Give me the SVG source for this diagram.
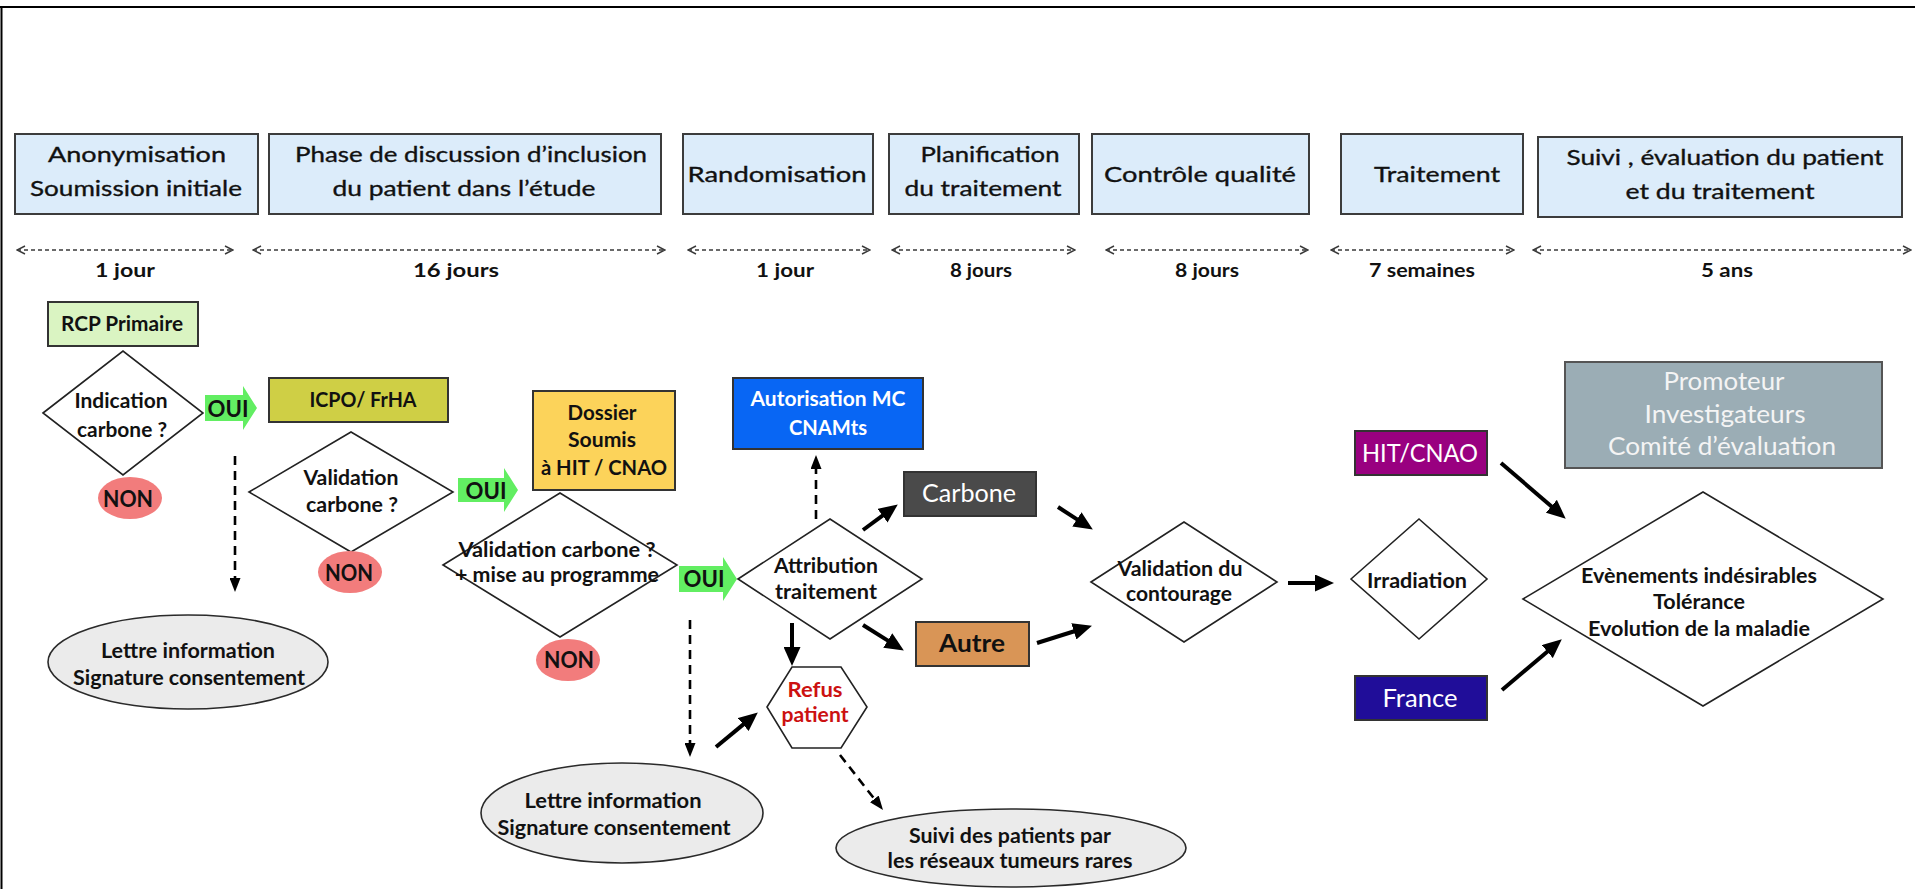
<svg xmlns="http://www.w3.org/2000/svg" width="1915" height="889" viewBox="0 0 1915 889">
<style>
.t{font-family:Lato,'Liberation Sans',sans-serif;text-anchor:middle;fill:#111}
.h{font-size:22px;stroke:#111;stroke-width:0.35}
.b{font-size:20.5px;font-weight:bold}
.d{font-size:19px;font-weight:bold}
.o{font-size:23px;font-weight:bold}
.L{font-size:25px}
.w{fill:#fff}
.hdr{fill:#dcecfa;stroke:#3c3c3c;stroke-width:2}
.box{stroke:#333;stroke-width:2}
.dia{fill:#fff;stroke:#222;stroke-width:1.6}
.ell{fill:#ebebeb;stroke:#2a2a2a;stroke-width:1.6}
.non{fill:#f27c7c}
.oui{fill:#62ee62}
.tl{stroke:#3a3a3a;stroke-width:1.4;stroke-dasharray:4 3;fill:none;marker-start:url(#chev);marker-end:url(#chev)}
.sa{stroke:#000;stroke-width:4;fill:none;marker-end:url(#ah)}
.da{stroke:#000;stroke-width:2.6;stroke-dasharray:9 6;fill:none;marker-end:url(#dh)}
</style>
<defs>
<marker id="chev" markerUnits="userSpaceOnUse" viewBox="0 0 10 10" markerWidth="10" markerHeight="10" refX="9" refY="5" orient="auto-start-reverse"><path d="M1,1 L9,5 L1,9" fill="none" stroke="#3a3a3a" stroke-width="1.4"/></marker>
<marker id="ah" markerUnits="userSpaceOnUse" viewBox="0 0 19 17" markerWidth="19" markerHeight="17" refX="3" refY="8.5" orient="auto"><path d="M0,0 L19,8.5 L0,17 Z" fill="#000"/></marker>
<marker id="dh" markerUnits="userSpaceOnUse" viewBox="0 0 14 11" markerWidth="14" markerHeight="11" refX="2" refY="5.5" orient="auto"><path d="M0,0 L14,5.5 L0,11 Z" fill="#000"/></marker>
</defs>
<rect x="0" y="0" width="1915" height="889" fill="#fff"/>
<g id="frame"><line x1="0" y1="7" x2="1915" y2="7" stroke="#000" stroke-width="2"/><line x1="1.5" y1="7" x2="1.5" y2="889" stroke="#000" stroke-width="2"/></g>

<g id="header">
<g id="h1"><rect class="hdr" x="15" y="134" width="243" height="80"/>
<text class="t h" x="137" y="162" textLength="178" lengthAdjust="spacingAndGlyphs">Anonymisation</text>
<text class="t h" x="136" y="196" textLength="212" lengthAdjust="spacingAndGlyphs">Soumission initiale</text></g>
<g id="h2"><rect class="hdr" x="269" y="134" width="392" height="80"/>
<text class="t h" x="471" y="162" textLength="352" lengthAdjust="spacingAndGlyphs">Phase de discussion d’inclusion</text>
<text class="t h" x="464" y="196" textLength="263" lengthAdjust="spacingAndGlyphs">du patient dans l’étude</text></g>
<g id="h3"><rect class="hdr" x="683" y="134" width="190" height="80"/>
<text class="t h" x="777" y="182" textLength="179" lengthAdjust="spacingAndGlyphs">Randomisation</text></g>
<g id="h4"><rect class="hdr" x="889" y="134" width="190" height="80"/>
<text class="t h" x="990" y="162" textLength="139" lengthAdjust="spacingAndGlyphs">Planification</text>
<text class="t h" x="983" y="196" textLength="157" lengthAdjust="spacingAndGlyphs">du traitement</text></g>
<g id="h5"><rect class="hdr" x="1092" y="134" width="217" height="80"/>
<text class="t h" x="1200" y="182" textLength="192" lengthAdjust="spacingAndGlyphs">Contrôle qualité</text></g>
<g id="h6"><rect class="hdr" x="1341" y="134" width="182" height="80"/>
<text class="t h" x="1437" y="182" textLength="126" lengthAdjust="spacingAndGlyphs">Traitement</text></g>
<g id="h7"><rect class="hdr" x="1538" y="137" width="364" height="80"/>
<text class="t h" x="1725" y="165" textLength="317" lengthAdjust="spacingAndGlyphs">Suivi , évaluation du patient</text>
<text class="t h" x="1720" y="199" textLength="189" lengthAdjust="spacingAndGlyphs">et du traitement</text></g>
</g>

<g id="timeline">
<line class="tl" x1="17" y1="250" x2="233" y2="250"/>
<line class="tl" x1="253" y1="250" x2="665" y2="250"/>
<line class="tl" x1="688" y1="250" x2="870" y2="250"/>
<line class="tl" x1="892" y1="250" x2="1075" y2="250"/>
<line class="tl" x1="1106" y1="250" x2="1308" y2="250"/>
<line class="tl" x1="1331" y1="250" x2="1514" y2="250"/>
<line class="tl" x1="1533" y1="250" x2="1911" y2="250"/>
<text class="t d" x="125" y="277" textLength="60" lengthAdjust="spacingAndGlyphs">1  jour</text>
<text class="t d" x="456" y="277" textLength="86" lengthAdjust="spacingAndGlyphs">16 jours</text>
<text class="t d" x="785" y="277" textLength="58" lengthAdjust="spacingAndGlyphs">1 jour</text>
<text class="t d" x="981" y="277" textLength="62" lengthAdjust="spacingAndGlyphs">8 jours</text>
<text class="t d" x="1207" y="277" textLength="64" lengthAdjust="spacingAndGlyphs">8 jours</text>
<text class="t d" x="1422" y="277" textLength="106" lengthAdjust="spacingAndGlyphs">7 semaines</text>
<text class="t d" x="1727" y="277" textLength="52" lengthAdjust="spacingAndGlyphs">5 ans</text>
</g>

<g id="connectors">
<line class="da" x1="235" y1="456" x2="235" y2="580"/>
<line class="da" x1="816" y1="519" x2="816" y2="467"/>
<line class="da" x1="690" y1="620" x2="690" y2="745"/>
<line class="da" x1="840" y1="755" x2="875.6" y2="800.5"/>
<line class="sa" x1="863" y1="530" x2="884.9" y2="513.9"/>
<line class="sa" x1="863" y1="625" x2="890.3" y2="642.1"/>
<line class="sa" x1="792" y1="623" x2="792" y2="650"/>
<line class="sa" x1="716" y1="747" x2="745.5" y2="722.6"/>
<line class="sa" x1="1058" y1="507" x2="1079.4" y2="520.9"/>
<line class="sa" x1="1037" y1="643" x2="1076.7" y2="630.5"/>
<line class="sa" x1="1288" y1="583" x2="1318" y2="583"/>
<line class="sa" x1="1501" y1="463" x2="1553.6" y2="508.2"/>
<line class="sa" x1="1502" y1="690" x2="1549.6" y2="649.7"/>
</g>

<g id="rcp"><rect class="box" x="48" y="302" width="150" height="44" fill="#daf4c2"/>
<text class="t b" x="122" y="331" textLength="122" lengthAdjust="spacingAndGlyphs">RCP Primaire</text></g>
<g id="indication"><polygon class="dia" points="43,413 123,351 203,413 123,475"/>
<text class="t b" x="121" y="408" textLength="93" lengthAdjust="spacingAndGlyphs">Indication</text>
<text class="t b" x="122" y="437" textLength="90" lengthAdjust="spacingAndGlyphs">carbone ?</text></g>
<g id="oui1"><path class="oui" d="M205,395 H243 V386 L257,408 L243,430 V421 H205 Z"/>
<text class="t o" x="228" y="417" textLength="41" lengthAdjust="spacingAndGlyphs">OUI</text></g>
<g id="non1"><ellipse class="non" cx="130" cy="498" rx="32" ry="21"/>
<text class="t o" x="128" y="507" textLength="50" lengthAdjust="spacingAndGlyphs">NON</text></g>
<g id="lettre1"><ellipse class="ell" cx="188" cy="662" rx="140" ry="47"/>
<text class="t b" x="188" y="658" textLength="174" lengthAdjust="spacingAndGlyphs">Lettre information</text>
<text class="t b" x="189" y="685" textLength="232" lengthAdjust="spacingAndGlyphs">Signature consentement</text></g>
<g id="icpo"><rect class="box" x="269" y="378" width="179" height="44" fill="#cfcf45"/>
<text class="t b" x="363" y="407" textLength="107" lengthAdjust="spacingAndGlyphs">ICPO/ FrHA</text></g>
<g id="validation1"><polygon class="dia" points="249,492 351,432 453,492 351,552"/>
<text class="t b" x="351" y="485" textLength="95" lengthAdjust="spacingAndGlyphs">Validation</text>
<text class="t b" x="352" y="512" textLength="92" lengthAdjust="spacingAndGlyphs">carbone ?</text></g>
<g id="oui2"><path class="oui" d="M458,478 H504 V468 L518,490 L504,512 V502 H458 Z"/>
<text class="t o" x="486" y="499" textLength="41" lengthAdjust="spacingAndGlyphs">OUI</text></g>
<g id="non2"><ellipse class="non" cx="350" cy="572" rx="32" ry="21"/>
<text class="t o" x="349" y="581" textLength="48" lengthAdjust="spacingAndGlyphs">NON</text></g>
<g id="dossier"><rect class="box" x="533" y="391" width="142" height="99" fill="#fcd35a"/>
<text class="t b" x="602" y="420" textLength="69" lengthAdjust="spacingAndGlyphs">Dossier</text>
<text class="t b" x="602" y="447" textLength="68" lengthAdjust="spacingAndGlyphs">Soumis</text>
<text class="t b" x="604" y="475" textLength="126" lengthAdjust="spacingAndGlyphs">à HIT / CNAO</text></g>
<g id="validation2"><polygon class="dia" points="443,565 560,493 677,565 560,637"/>
<text class="t b" x="557" y="557" textLength="197" lengthAdjust="spacingAndGlyphs">Validation carbone ?</text>
<text class="t b" x="557" y="582" textLength="204" lengthAdjust="spacingAndGlyphs">+ mise au programme</text></g>
<g id="non3"><ellipse class="non" cx="568" cy="660" rx="32" ry="21"/>
<text class="t o" x="569" y="668" textLength="50" lengthAdjust="spacingAndGlyphs">NON</text></g>
<g id="oui3"><path class="oui" d="M679,566 H723 V557 L737,579 L723,601 V592 H679 Z"/>
<text class="t o" x="704" y="587" textLength="41" lengthAdjust="spacingAndGlyphs">OUI</text></g>
<g id="attribution"><polygon class="dia" points="738,579 830,519 922,579 830,639"/>
<text class="t b" x="826" y="573" textLength="104" lengthAdjust="spacingAndGlyphs">Attribution</text>
<text class="t b" x="826" y="599" textLength="102" lengthAdjust="spacingAndGlyphs">traitement</text></g>
<g id="autorisation"><rect class="box" x="733" y="378" width="190" height="71" fill="#0866f4"/>
<text class="t b w" x="828" y="406" textLength="155" lengthAdjust="spacingAndGlyphs">Autorisation MC</text>
<text class="t b w" x="828" y="435" textLength="78" lengthAdjust="spacingAndGlyphs">CNAMts</text></g>
<g id="carbone"><rect class="box" x="904" y="472" width="132" height="44" fill="#4a4a4a"/>
<text class="t L w" x="969" y="502" textLength="94" lengthAdjust="spacingAndGlyphs">Carbone</text></g>
<g id="autre"><rect class="box" x="916" y="622" width="113" height="44" fill="#d99556"/>
<text class="t L" x="972" y="652" font-weight="bold" textLength="66" lengthAdjust="spacingAndGlyphs">Autre</text></g>
<g id="refus"><polygon class="dia" points="767,707 792,667 841,667 867,707 841,748 792,748"/>
<text class="t b" x="815" y="697" style="fill:#cc1111" textLength="55" lengthAdjust="spacingAndGlyphs">Refus</text>
<text class="t b" x="815" y="722" style="fill:#cc1111" textLength="67" lengthAdjust="spacingAndGlyphs">patient</text></g>
<g id="lettre2"><ellipse class="ell" cx="622" cy="813" rx="141" ry="50"/>
<text class="t b" x="613" y="808" textLength="177" lengthAdjust="spacingAndGlyphs">Lettre information</text>
<text class="t b" x="614" y="835" textLength="233" lengthAdjust="spacingAndGlyphs">Signature consentement</text></g>
<g id="suivi"><ellipse class="ell" cx="1011" cy="848" rx="175" ry="39"/>
<text class="t b" x="1010" y="843" textLength="202" lengthAdjust="spacingAndGlyphs">Suivi des patients par</text>
<text class="t b" x="1010" y="868" textLength="245" lengthAdjust="spacingAndGlyphs">les réseaux tumeurs rares</text></g>
<g id="contourage"><polygon class="dia" points="1091,582 1184,522 1277,582 1184,642"/>
<text class="t b" x="1180" y="576" textLength="125" lengthAdjust="spacingAndGlyphs">Validation du</text>
<text class="t b" x="1179" y="601" textLength="106" lengthAdjust="spacingAndGlyphs">contourage</text></g>
<g id="irradiation"><polygon class="dia" points="1351,579 1419,519 1487,579 1419,639"/>
<text class="t b" x="1417" y="588" textLength="100" lengthAdjust="spacingAndGlyphs">Irradiation</text></g>
<g id="hitcnao"><rect class="box" x="1355" y="431" width="132" height="44" fill="#990080"/>
<text class="t L w" x="1420" y="462" textLength="116" lengthAdjust="spacingAndGlyphs">HIT/CNAO</text></g>
<g id="france"><rect class="box" x="1355" y="676" width="132" height="44" fill="#200d99"/>
<text class="t L w" x="1420" y="707" textLength="75" lengthAdjust="spacingAndGlyphs">France</text></g>
<g id="promoteur"><rect x="1565" y="362" width="317" height="106" fill="#9badb5" stroke="#555" stroke-width="2"/>
<text class="t L" x="1724" y="390" style="fill:#f4f4f4" textLength="121" lengthAdjust="spacingAndGlyphs">Promoteur</text>
<text class="t L" x="1725" y="423" style="fill:#f4f4f4" textLength="161" lengthAdjust="spacingAndGlyphs">Investigateurs</text>
<text class="t L" x="1722" y="455" style="fill:#f4f4f4" textLength="228" lengthAdjust="spacingAndGlyphs">Comité d’évaluation</text></g>
<g id="evenements"><polygon class="dia" points="1523,599 1703,492 1883,599 1703,706"/>
<text class="t b" x="1699" y="583" textLength="236" lengthAdjust="spacingAndGlyphs">Evènements indésirables</text>
<text class="t b" x="1699" y="609" textLength="92" lengthAdjust="spacingAndGlyphs">Tolérance</text>
<text class="t b" x="1699" y="636" textLength="222" lengthAdjust="spacingAndGlyphs">Evolution de la maladie</text></g>
</svg>
